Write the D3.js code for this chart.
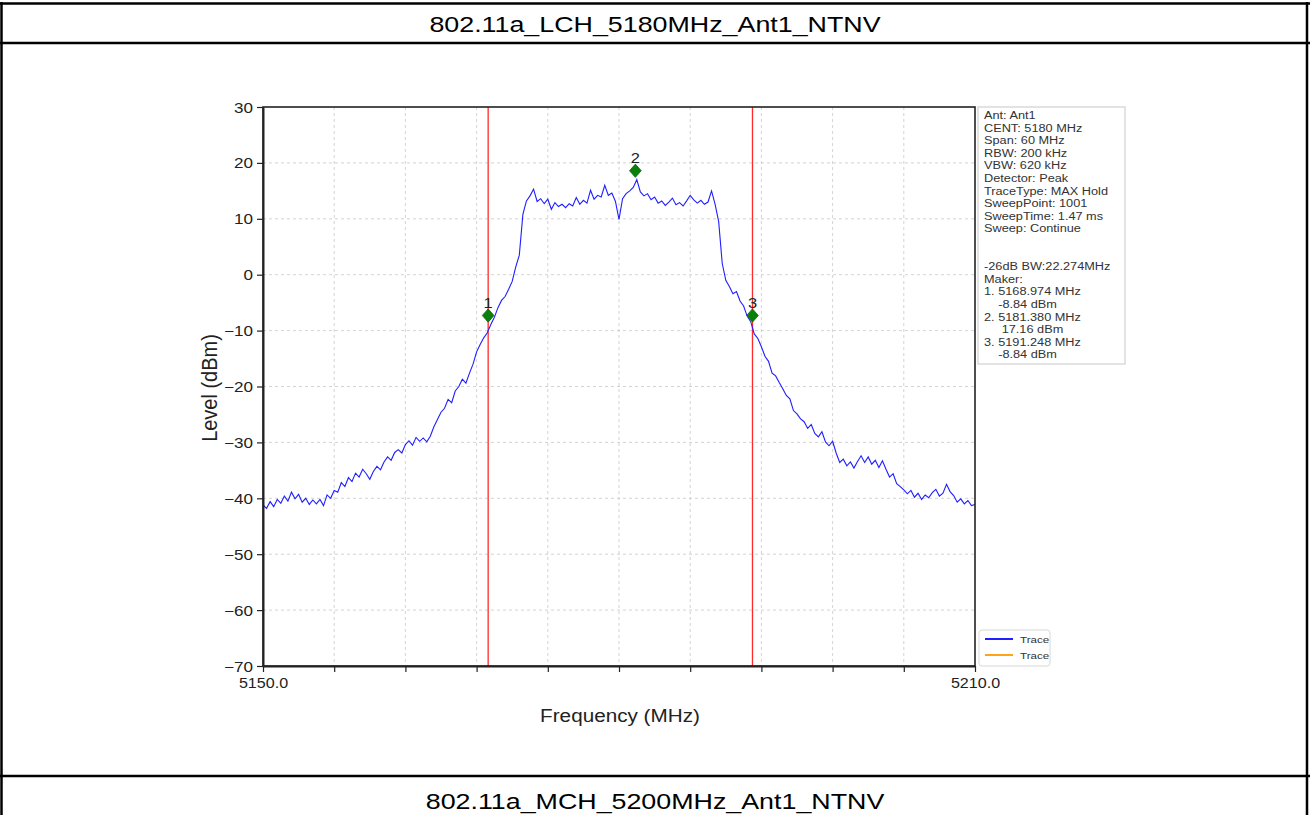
<!DOCTYPE html>
<html>
<head>
<meta charset="utf-8">
<script src="https://cdn.jsdelivr.net/npm/d3@7"></script>
<style>
  body { margin: 0; background: #fff; }
  svg text { font-family: "Liberation Sans", Arial, sans-serif; }
</style>
</head>
<body>
<svg id="page" width="1310" height="815"></svg>
<script>
// sweep settings (evenly spaced sweep points)
const startFreq = 5150;
const stepFreq = 0.3;

// trace level (dBm), one value per sweep point
const traceLevels = [
  -41.2, -41.8, -40.6, -41.5, -40.2, -40.9, -39.6, -40.5, -38.9, -40.1,
  -39.3, -40.7, -40.0, -41.1, -40.3, -41.0, -40.2, -41.3, -39.4, -40.0,
  -38.6, -38.9, -37.2, -37.9, -36.3, -37.0, -35.5, -36.2, -34.8, -35.6,
  -36.6, -35.2, -34.3, -34.9, -33.5, -32.6, -33.2, -31.8, -31.3, -31.9,
  -30.4, -29.7, -30.5, -29.1, -29.8, -29.2, -29.9, -28.9, -27.2, -25.9,
  -24.6, -23.9, -22.3, -22.9, -20.8, -20.0, -18.7, -19.4, -17.6, -16.0,
  -13.8, -12.5, -11.3, -10.4, -8.9, -7.6, -5.9, -4.6, -3.9, -2.6,
  -1.2, 1.4, 3.5, 10.8, 13.2, 14.1, 15.3, 13.1, 13.6, 12.7,
  13.5, 11.7, 12.9, 12.2, 12.6, 12.0, 12.7, 12.3, 13.8, 12.6,
  13.3, 12.8, 15.1, 13.5, 14.2, 13.9, 16.0, 14.2, 14.6, 13.1,
  9.9, 13.6, 14.5, 15.0, 15.6, 17.0, 14.8, 14.1, 14.5, 13.4,
  13.9, 12.8, 13.2, 12.4, 13.0, 13.7, 12.5, 12.9, 12.3, 13.2,
  14.2, 13.4, 12.8, 13.3, 12.6, 13.0, 15.0, 12.6, 9.5, 2.0,
  -1.0, -2.1, -3.4, -3.0, -4.7, -5.6, -7.4, -8.4, -10.6, -11.4,
  -12.9, -14.6, -15.5, -17.6, -18.1, -19.3, -20.4, -21.6, -22.2, -24.3,
  -24.9, -25.8, -26.3, -27.5, -26.8, -28.4, -29.0, -28.1, -29.9, -30.6,
  -29.8, -31.9, -33.6, -33.0, -34.2, -33.5, -34.6, -33.4, -32.4, -33.6,
  -32.6, -33.9, -33.2, -34.5, -33.3, -34.8, -36.2, -35.6, -37.4, -37.9,
  -38.5, -39.2, -38.6, -39.8, -39.1, -40.2, -39.4, -39.9, -39.0, -38.4,
  -39.6, -39.1, -37.5, -38.8, -39.5, -40.7, -40.1, -41.0, -40.4, -41.3,
  -41.1
];

// markers (frequency, plotted level) and bandwidth edges
const markerIds = ["1", "2", "3"];
const markerFreqs = [5168.974, 5181.380, 5191.248];
const markerLevels = [-7.3, 18.6, -7.3];
const edgeFreqs = [5168.974, 5191.248];

// axis ticks
const xTicks = [5150, 5156, 5162, 5168, 5174, 5180, 5186, 5192, 5198, 5204, 5210];
const xTickLabels = ["5150.0", "", "", "", "", "", "", "", "", "", "5210.0"];
const yTicks = [30, 20, 10, 0, -10, -20, -30, -40, -50, -60, -70];

// texts
const topTitle = "802.11a_LCH_5180MHz_Ant1_NTNV";
const bottomTitle = "802.11a_MCH_5200MHz_Ant1_NTNV";
const infoLines = [
  "Ant: Ant1", "CENT: 5180 MHz", "Span: 60 MHz", "RBW: 200 kHz", "VBW: 620 kHz",
  "Detector: Peak", "TraceType: MAX Hold", "SweepPoint: 1001", "SweepTime: 1.47 ms",
  "Sweep: Continue", "", "",
  "-26dB BW:22.274MHz", "Maker:",
  "1. 5168.974 MHz", "    -8.84 dBm",
  "2. 5181.380 MHz", "     17.16 dBm",
  "3. 5191.248 MHz", "    -8.84 dBm"
];
const legendNames = ["Trace", "Trace"];
const legendColors = ["#1f1fff", "#ffa31a"];

const SX = 1.22; // the source picture is stretched sideways

const svg = d3.select("#page");

// put text at (x, y) with a horizontal stretch
function stretchText(sel, x, y, sx = SX) {
    return sel.attr("transform", `translate(${x},${y}) scale(${sx},1)`);
}

// table frame
const frame = svg.append("g").attr("stroke", "#000").attr("stroke-width", 2.5);
frame.append("line").attr("x1", 1.5).attr("x2", 1.5).attr("y1", 2).attr("y2", 815);
frame.append("line").attr("x1", 1307).attr("x2", 1307).attr("y1", 2).attr("y2", 815);
frame.append("line").attr("x1", 0).attr("x2", 1310).attr("y1", 3.5).attr("y2", 3.5);
frame.append("line").attr("x1", 0).attr("x2", 1310).attr("y1", 43).attr("y2", 43);
frame.append("line").attr("x1", 0).attr("x2", 1310).attr("y1", 776).attr("y2", 776);

stretchText(svg.append("text"), 655, 32)
    .attr("text-anchor", "middle").style("font-size", "22px").text(topTitle);
stretchText(svg.append("text"), 655, 809)
    .attr("text-anchor", "middle").style("font-size", "22px").text(bottomTitle);

// plot
const x = d3.scaleLinear().domain([5150, 5210]).range([263, 975]);
const y = d3.scaleLinear().domain([-70, 30]).range([666, 107]);

const plot = svg.append("g");

// grid
plot.append("g").selectAll("line").data(xTicks.slice(1, -1)).enter().append("line")
    .attr("x1", d => x(d)).attr("x2", d => x(d))
    .attr("y1", y(30)).attr("y2", y(-70))
    .attr("stroke", "#c8c8c8").attr("stroke-width", 0.8).attr("stroke-dasharray", "3,3");
plot.append("g").selectAll("line").data(yTicks.slice(1, -1)).enter().append("line")
    .attr("x1", x(5150)).attr("x2", x(5210))
    .attr("y1", d => y(d)).attr("y2", d => y(d))
    .attr("stroke", "#c8c8c8").attr("stroke-width", 0.8).attr("stroke-dasharray", "3,3");

// bandwidth edges
plot.append("g").selectAll("line").data(edgeFreqs).enter().append("line")
    .attr("x1", d => x(d)).attr("x2", d => x(d))
    .attr("y1", y(30)).attr("y2", y(-70))
    .attr("stroke", "#ff2a2a").attr("stroke-width", 1.3);

// trace
const traceData = traceLevels.map((v, i) => ({ f: startFreq + i * stepFreq, v }));
const line = d3.line().x(d => x(d.f)).y(d => y(d.v));
plot.append("path").datum(traceData)
    .attr("d", line)
    .attr("fill", "none")
    .attr("stroke", legendColors[0])
    .attr("stroke-width", 1.1);

// markers
const markers = markerIds.map((id, i) => ({ id, f: markerFreqs[i], v: markerLevels[i] }));
plot.append("g").selectAll("path").data(markers).enter().append("path")
    .attr("d", d3.symbol(d3.symbolSquare, 52))
    .attr("transform", d => `translate(${x(d.f)},${y(d.v)}) scale(1.15,1.3) rotate(45)`)
    .attr("fill", "#0a800a").attr("stroke", "#086a08").attr("stroke-width", 0.6);
plot.append("g").selectAll("text").data(markers).enter().append("text")
    .each(function(d) { stretchText(d3.select(this), x(d.f), y(d.v) - 8, 1.1); })
    .attr("text-anchor", "middle").style("font-size", "15px").attr("fill", "#222")
    .text(d => d.id);

// axes box
plot.append("rect")
    .attr("x", x(5150)).attr("y", y(30))
    .attr("width", x(5210) - x(5150)).attr("height", y(-70) - y(30))
    .attr("fill", "none").attr("stroke", "#222").attr("stroke-width", 1.6);

// x axis
const xAxis = plot.append("g").attr("transform", `translate(0,${y(-70)})`)
    .call(d3.axisBottom(x).tickValues(xTicks).tickSize(6).tickSizeOuter(0)
        .tickFormat((d, i) => xTickLabels[i]));
xAxis.select(".domain").attr("stroke", "#222").attr("stroke-width", 2);
xAxis.selectAll(".tick line").attr("stroke", "#222").attr("stroke-width", 1.2);
xAxis.selectAll(".tick text")
    .attr("y", 0).attr("dy", 0)
    .attr("transform", "translate(0,22) scale(1.15,1)")
    .style("font-size", "14px").attr("fill", "#222");

// y axis
const yAxis = plot.append("g").attr("transform", `translate(${x(5150)},0)`)
    .call(d3.axisLeft(y).tickValues(yTicks).tickSize(6).tickSizeOuter(0)
        .tickFormat(d => d < 0 ? "\u2212" + Math.abs(d) : String(d)));
yAxis.select(".domain").attr("stroke", "#222").attr("stroke-width", 2);
yAxis.selectAll(".tick line").attr("stroke", "#222").attr("stroke-width", 1.2);
yAxis.selectAll(".tick text")
    .attr("x", 0).attr("dy", 0)
    .attr("transform", `translate(-10,5) scale(${SX},1)`)
    .style("font-size", "14px").attr("fill", "#222");

// axis titles
stretchText(svg.append("text"), 620, 722, 1.09)
    .attr("text-anchor", "middle").style("font-size", "19px").attr("fill", "#222")
    .text("Frequency (MHz)");
svg.append("text")
    .attr("transform", "translate(217,388) rotate(-90) scale(1,1.12)")
    .attr("text-anchor", "middle").style("font-size", "20px").attr("fill", "#222")
    .text("Level (dBm)");

// info box
const info = svg.append("g");
info.append("rect").attr("x", 978).attr("y", 107).attr("width", 147).attr("height", 257)
    .attr("fill", "#fff").attr("stroke", "#d0d0d0").attr("stroke-width", 1.2);
info.selectAll("text").data(infoLines).enter().append("text")
    .each(function(d, i) { stretchText(d3.select(this), 984, 119 + i * 12.6, 1.18); })
    .style("font-size", "10.8px").style("white-space", "pre").attr("fill", "#333")
    .text(d => d);

// legend
const legend = svg.append("g");
legend.append("rect").attr("x", 979).attr("y", 630).attr("width", 71).attr("height", 36).attr("rx", 3)
    .attr("fill", "#fff").attr("stroke", "#d8d8d8");
legendNames.forEach((name, i) => {
    const ly = 639 + i * 16;
    legend.append("line").attr("x1", 985).attr("x2", 1013).attr("y1", ly).attr("y2", ly)
        .attr("stroke", legendColors[i]).attr("stroke-width", 2);
    stretchText(legend.append("text"), 1020, ly + 3.5)
        .style("font-size", "9.5px").attr("fill", "#333").text(name);
});
</script>
</body>
</html>
